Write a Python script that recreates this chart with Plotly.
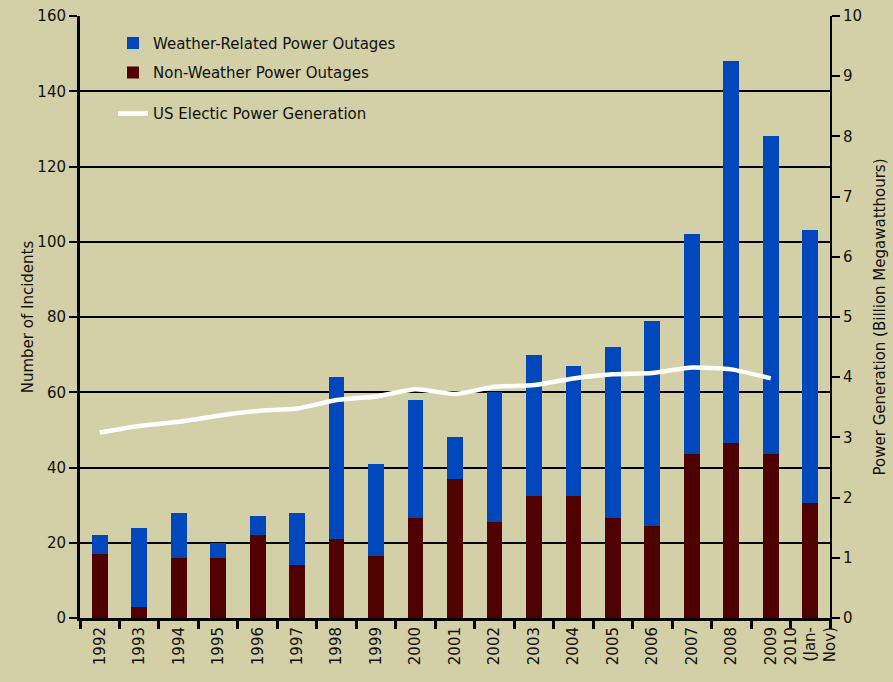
import plotly.graph_objects as go

years = ["1992", "1993", "1994", "1995", "1996", "1997", "1998", "1999", "2000", "2001",
         "2002", "2003", "2004", "2005", "2006", "2007", "2008", "2009", "2010<br>(Jan-<br>Nov)"]
total_outages = [22, 24, 28, 20, 27, 28, 64, 41, 58, 48,
                 60, 70, 67, 72, 79, 102, 148, 128, 103]
non_weather = [17, 3, 16, 16, 22, 14, 21, 16.5, 26.5, 37,
               25.5, 32.5, 32.5, 26.5, 24.5, 43.5, 46.5, 43.5, 30.5]
weather = [t - n for t, n in zip(total_outages, non_weather)]
power_gen = [3.08, 3.19, 3.26, 3.36, 3.44, 3.48, 3.62, 3.68, 3.80, 3.72,
             3.84, 3.87, 3.98, 4.05, 4.07, 4.16, 4.13, 3.98, None]

BG = "#D3CFA6"
BLUE = "#0047BB"
MAROON = "#4F0000"
FONT = "DejaVu Sans"

fig = go.Figure()
fig.add_trace(go.Bar(
    x=years, y=non_weather, name="Non-Weather Power Outages",
    marker=dict(color=MAROON, line=dict(width=0)), legendgroup="b", legendrank=2,
    legend="legend",
))
fig.add_trace(go.Bar(
    x=years, y=weather, name="Weather-Related Power Outages",
    marker=dict(color=BLUE, line=dict(width=0)), legendgroup="a", legendrank=1,
    legend="legend",
))
fig.add_trace(go.Scatter(
    x=years, y=power_gen, name="US Electic Power Generation", yaxis="y2",
    mode="lines", line=dict(color="white", width=4.5, shape="spline", smoothing=0.5),
    legend="legend2", connectgaps=False,
))

fig.update_layout(
    width=893, height=682,
    paper_bgcolor=BG, plot_bgcolor=BG,
    margin=dict(l=80, r=63, t=16, b=64, autoexpand=False),
    barmode="stack", bargap=0.6,
    font=dict(family=FONT, size=15, color="#111111"),
    showlegend=True,
    legend=dict(
        x=0.044, y=0.982, xanchor="left", yanchor="top",
        bgcolor="rgba(0,0,0,0)", font=dict(size=15, family=FONT),
        traceorder="grouped", tracegroupgap=7, itemwidth=30,
    ),
    legend2=dict(
        x=0.044, y=0.865, xanchor="left", yanchor="top",
        bgcolor="rgba(0,0,0,0)", font=dict(size=15, family=FONT),
        itemwidth=30,
    ),
    xaxis=dict(
        type="category", tickangle=-90, tickson="boundaries",
        ticks="outside", ticklen=8, tickwidth=3, tickcolor="black",
        showline=True, linecolor="black", linewidth=3,
        showgrid=False, tickfont=dict(size=15, family=FONT),
        range=[-0.5, 18.5], automargin=False,
    ),
    yaxis=dict(
        range=[0, 160], dtick=20, tick0=0,
        showgrid=True, gridcolor="black", gridwidth=2,
        showline=True, linecolor="black", linewidth=3,
        ticks="outside", ticklen=8, tickwidth=2, tickcolor="black",
        title=dict(text="Number of Incidents", font=dict(size=15), standoff=0),
        zeroline=False, tickfont=dict(size=15), automargin=False,
    ),
    yaxis2=dict(
        range=[0, 10], dtick=1, tick0=0, overlaying="y", side="right",
        showgrid=False, showline=True, linecolor="black", linewidth=2,
        ticks="outside", ticklen=8, tickwidth=2, tickcolor="black",
        title=dict(text="Power Generation (Billion Megawatthours)", font=dict(size=15), standoff=13),
        zeroline=False, tickfont=dict(size=15), automargin=False,
    ),
)

fig.write_html(
    "out.html",
    config={"displayModeBar": False},
    post_script="document.body.style.margin='0';document.body.style.overflow='hidden';",
)
